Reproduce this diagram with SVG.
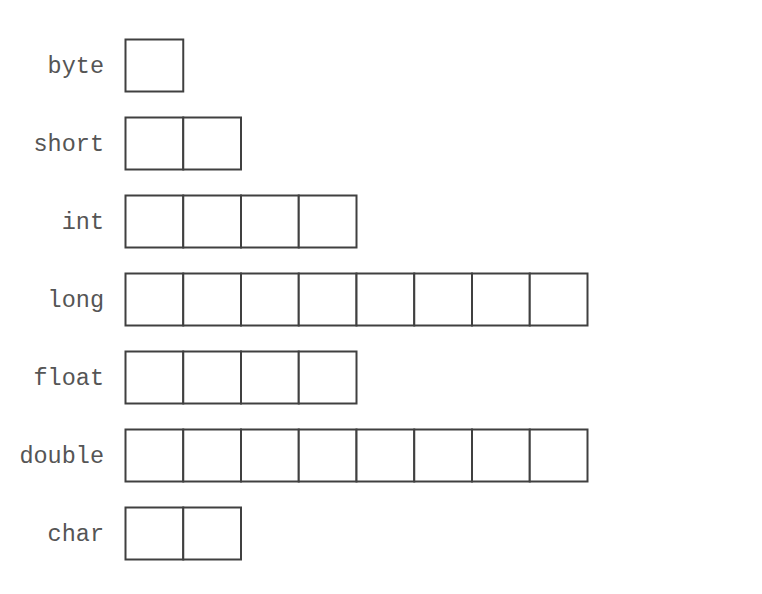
<svg xmlns="http://www.w3.org/2000/svg" width="762" height="594" viewBox="0 0 762 594">
<style>
.lbl{font-family:"Liberation Mono","Courier New",monospace;font-size:23.5px;fill:#555555;text-anchor:end}
.cell{fill:#ffffff;stroke:#404040;stroke-width:2}
</style>
<defs>
<rect id="c" class="cell" width="57.75" height="52"/>
</defs>
<rect width="762" height="594" fill="#ffffff"/>
<g id="byte"><text class="lbl" x="104" y="73">byte</text>
<use href="#c" x="125.5" y="39.5"/></g>
<g id="short"><text class="lbl" x="104" y="151">short</text>
<use href="#c" x="125.5" y="117.5"/><use href="#c" x="183.25" y="117.5"/></g>
<g id="int"><text class="lbl" x="104" y="229">int</text>
<use href="#c" x="125.5" y="195.5"/><use href="#c" x="183.25" y="195.5"/><use href="#c" x="241" y="195.5"/><use href="#c" x="298.75" y="195.5"/></g>
<g id="long"><text class="lbl" x="104" y="307">long</text>
<use href="#c" x="125.5" y="273.5"/><use href="#c" x="183.25" y="273.5"/><use href="#c" x="241" y="273.5"/><use href="#c" x="298.75" y="273.5"/><use href="#c" x="356.5" y="273.5"/><use href="#c" x="414.25" y="273.5"/><use href="#c" x="472" y="273.5"/><use href="#c" x="529.75" y="273.5"/></g>
<g id="float"><text class="lbl" x="104" y="385">float</text>
<use href="#c" x="125.5" y="351.5"/><use href="#c" x="183.25" y="351.5"/><use href="#c" x="241" y="351.5"/><use href="#c" x="298.75" y="351.5"/></g>
<g id="double"><text class="lbl" x="104" y="463">double</text>
<use href="#c" x="125.5" y="429.5"/><use href="#c" x="183.25" y="429.5"/><use href="#c" x="241" y="429.5"/><use href="#c" x="298.75" y="429.5"/><use href="#c" x="356.5" y="429.5"/><use href="#c" x="414.25" y="429.5"/><use href="#c" x="472" y="429.5"/><use href="#c" x="529.75" y="429.5"/></g>
<g id="char"><text class="lbl" x="104" y="541">char</text>
<use href="#c" x="125.5" y="507.5"/><use href="#c" x="183.25" y="507.5"/></g>
<g id="connectors"></g>
</svg>
